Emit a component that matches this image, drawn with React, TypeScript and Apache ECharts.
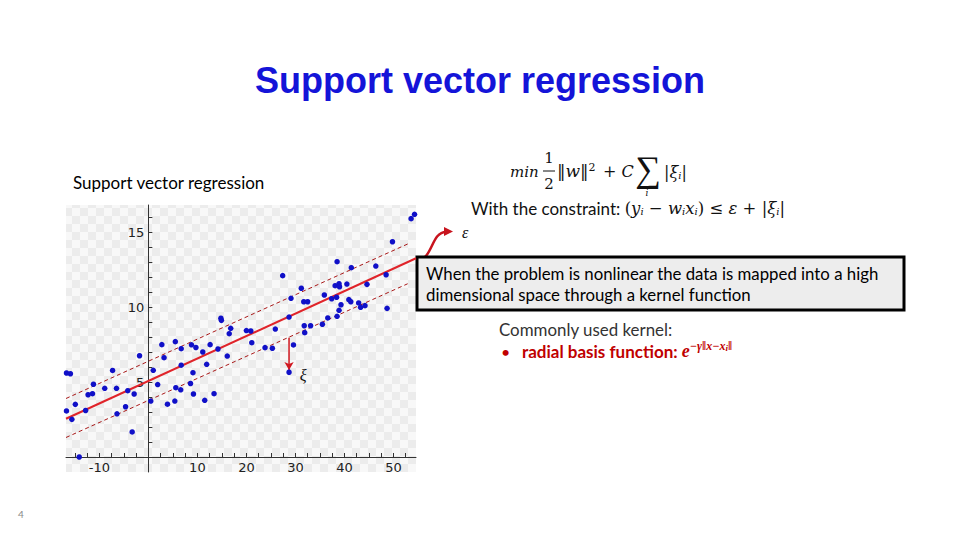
import React, { useEffect, useRef } from "react";
import * as echarts from "echarts";

// Scatter points: [x, y]
const points: number[][] = [
  [-16.7, 5.6], [-15.9, 5.55], [-1.8, 6.75], [-7.3, 5.77], [1.0, 5.78],
  [-11.2, 4.85], [-8.9, 4.58], [-6.5, 4.58], [-12.3, 4.15], [-11.4, 4.22],
  [-4.2, 4.42], [-2.9, 4.2], [-14.9, 3.51], [-16.7, 3.07], [-12.8, 3.1],
  [-15.6, 2.51], [-6.4, 2.88], [-4.65, 3.35], [0.5, 3.73], [-3.3, 1.67],
  [-14.1, 0.0], [1.9, 4.83], [14.8, 9.25], [14.9, 9.11], [16.8, 8.58],
  [16.5, 8.22], [2.75, 7.49], [5.5, 7.69], [6.7, 7.22], [8.8, 7.48],
  [9.7, 7.3], [11.1, 7.0], [12.6, 7.49], [14.2, 7.2], [16.1, 6.73],
  [3.2, 6.62], [6.7, 6.12], [11.9, 6.18], [9.1, 5.62], [5.6, 4.62],
  [6.6, 4.48], [8.6, 4.9], [9.2, 4.2], [13.4, 4.22], [5.4, 3.73],
  [3.9, 3.52], [11.5, 3.78], [27.4, 12.09], [31.2, 11.25], [29.1, 10.58],
  [31.7, 10.35], [32.5, 10.35], [35.9, 10.8], [28.7, 9.33], [20.0, 8.43],
  [20.9, 8.4], [25.9, 8.53], [31.8, 8.75], [33.1, 8.75], [35.5, 8.85],
  [36.6, 9.27], [31.9, 8.29], [21.1, 7.62], [23.8, 7.29], [25.3, 7.25],
  [29.6, 7.47], [28.7, 5.65], [54.3, 16.18], [53.6, 15.89], [49.8, 14.35],
  [38.5, 13.02], [41.4, 12.62], [46.4, 12.73], [48.5, 12.15], [38.1, 11.42],
  [38.9, 11.55], [39.0, 11.35], [40.5, 11.53], [44.6, 11.51], [38.4, 10.65],
  [37.4, 10.55], [40.9, 10.49], [41.3, 10.35], [42.9, 10.27], [43.3, 9.98],
  [44.2, 10.09], [39.3, 10.15], [38.9, 9.78], [48.7, 9.91], [38.5, 9.38],
];

// Regression line and epsilon tube endpoints
const fitX = [-16.8, 54.6];
const fitY = [2.55, 13.25];
const upperX = [-16.8, 52.9];
const upperY = [3.9, 14.2];
const lowerX = [-16.8, 52.9];
const lowerY = [1.3, 11.55];
// slack (xi) arrow
const slackX = [28.7, 28.7];
const slackY = [7.95, 5.8];

const xLabels = [-10, 10, 20, 30, 40, 50];
const xTicks = [-15, -12.5, -10, -7.5, -5, -2.5, 0, 2.5, 5, 7.5, 10, 12.5, 15, 17.5, 20, 22.5, 25, 27.5, 30, 32.5, 35, 37.5, 40, 42.5, 45, 47.5, 50, 52.5];
const yLabels = [5, 10, 15];
const yTicks = [1, 2, 3, 4, 5, 6, 7, 8, 9, 10, 11, 12, 13, 14, 15, 16];

const SERIF = '"Liberation Serif", "DejaVu Serif", serif';
const MATH = '"DejaVu Serif", serif';
const SANS = 'Lato, "Open Sans", sans-serif';
const RED = "#c00000";

export default function App() {
  const ref = useRef<HTMLDivElement>(null);
  useEffect(() => {
    document.body.style.margin = "0";
    const chart = echarts.init(ref.current!, null, { renderer: "svg" });

    const cv = document.createElement("canvas");
    cv.width = 16;
    cv.height = 16;
    const ctx = cv.getContext("2d")!;
    ctx.fillStyle = "#f8f8f8";
    ctx.fillRect(0, 0, 16, 16);
    ctx.fillStyle = "#ececec";
    ctx.fillRect(0, 0, 8, 8);
    ctx.fillRect(8, 8, 8, 8);

    const pair = (xs: number[], ys: number[]) => xs.map((x, i) => [x, ys[i]]);

    const mathRich = (size: number) => ({
      n: { font: `${size}px ${MATH}`, fill: "#111" },
      i: { font: `italic ${size}px ${MATH}`, fill: "#111" },
      b: { font: `italic ${Math.round(size * 0.62)}px ${MATH}`, fill: "#111", padding: [6, 0, 0, 0] },
      s: { font: `${Math.round(size * 0.62)}px ${MATH}`, fill: "#111", padding: [0, 0, 8, 0] },
      a: { font: `17px ${SANS}`, fill: "#111" },
    });

    const option: any = {
      animation: false,
      backgroundColor: "#ffffff",
      grid: { left: 66, right: 544, top: 205, bottom: 68 },
      xAxis: {
        type: "value",
        min: -16.8,
        max: 54.6,
        position: "bottom",
        offset: -15,
        axisLine: { show: true, onZero: false, lineStyle: { color: "#333", width: 1 } },
        axisTick: { show: true, inside: true, length: 4, customValues: xTicks, lineStyle: { color: "#333" } },
        axisLabel: { customValues: xLabels, fontSize: 13, color: "#222", fontFamily: "DejaVu Sans", margin: 4 },
        splitLine: { show: false },
      },
      yAxis: {
        type: "value",
        min: -1,
        max: 16.8,
        position: "left",
        offset: -82.35,
        axisLine: { show: true, onZero: false, lineStyle: { color: "#333", width: 1 } },
        axisTick: { show: true, inside: true, length: 4, customValues: yTicks, lineStyle: { color: "#333" } },
        axisLabel: { customValues: yLabels, fontSize: 13, color: "#222", fontFamily: "DejaVu Sans", margin: 4 },
        splitLine: { show: false },
      },
      graphic: [
        {
          type: "rect", z: -10, silent: true,
          shape: { x: 66, y: 205, width: 350, height: 267 },
          style: { fill: { image: cv, repeat: "repeat", imageWidth: 16, imageHeight: 16 } as any },
        },
        {
          type: "text", x: 480, y: 80,
          style: { text: "Support vector regression", font: 'bold 36px "Liberation Sans", Arial, sans-serif', fill: "#1414d8", align: "center", verticalAlign: "middle" },
        },
        {
          type: "text", x: 73, y: 182,
          style: { text: "Support vector regression", font: "17px " + SANS, fill: "#000", verticalAlign: "middle" },
        },
        // formula
        { type: "text", x: 510, y: 172, style: { text: "min", font: "italic 15px " + MATH, fill: "#111", verticalAlign: "middle" } },
        { type: "text", x: 549, y: 158, style: { text: "1", font: "15px " + MATH, fill: "#111", align: "center", verticalAlign: "middle" } },
        { type: "line", shape: { x1: 543, y1: 171, x2: 555, y2: 171 }, style: { stroke: "#111", lineWidth: 1 } },
        { type: "text", x: 549, y: 184, style: { text: "2", font: "15px " + MATH, fill: "#111", align: "center", verticalAlign: "middle" } },
        {
          type: "text", x: 557, y: 171,
          style: { text: "{n|‖}{i|w}{n|‖}{s|2}", verticalAlign: "middle", rich: mathRich(17) },
        },
        {
          type: "text", x: 603, y: 171,
          style: { text: "{n|+ }{i|C}", verticalAlign: "middle", rich: mathRich(16) },
        },
        { type: "text", x: 648, y: 169, style: { text: "∑", font: "36px " + SERIF, fill: "#111", align: "center", verticalAlign: "middle" } },
        { type: "text", x: 647, y: 193, style: { text: "i", font: "italic 9px " + MATH, fill: "#111", align: "center", verticalAlign: "middle" } },
        {
          type: "text", x: 664, y: 172,
          style: { text: "{n||}{i|ξ}{b|i}{n||}", verticalAlign: "middle", rich: mathRich(16) },
        },
        {
          type: "text", x: 471, y: 208,
          style: {
            text: "{a|With the constraint: }{n|(}{i|y}{b|i}{n| − }{i|w}{b|i}{i|x}{b|i}{n|) ≤ }{i|ε}{n| + |}{i|ξ}{b|i}{n||}",
            verticalAlign: "middle",
            rich: mathRich(16.5),
          },
        },
        // epsilon arrow
        {
          type: "bezierCurve",
          shape: { x1: 418, y1: 260, cpx1: 433, cpy1: 259, cpx2: 431, cpy2: 232, x2: 446, y2: 232 },
          style: { stroke: "#c8141e", lineWidth: 2.5, fill: "none" },
        },
        { type: "polygon", shape: { points: [[444, 227], [453, 231.5], [444, 236]] }, style: { fill: "#c8141e" } },
        { type: "text", x: 462, y: 232, style: { text: "ε", font: "italic 16px " + SERIF, fill: "#111", verticalAlign: "middle" } },
        // box
        {
          type: "rect",
          shape: { x: 417, y: 257, width: 487, height: 53 },
          style: { fill: "#ededed", stroke: "#000", lineWidth: 3 },
        },
        { type: "text", x: 426, y: 273, style: { text: "When the problem is nonlinear the data is mapped into a high", font: "16.8px " + SANS, fill: "#000", verticalAlign: "middle" } },
        { type: "text", x: 426, y: 294, style: { text: "dimensional space through a kernel function", font: "16.8px " + SANS, fill: "#000", verticalAlign: "middle" } },
        // kernel
        { type: "text", x: 499, y: 329, style: { text: "Commonly used kernel:", font: "16.9px " + SANS, fill: "#333", verticalAlign: "middle" } },
        { type: "text", x: 501, y: 351, style: { text: "•", font: "16px " + SANS, fill: RED, verticalAlign: "middle" } },
        {
          type: "text", x: 522, y: 351,
          style: {
            text: "{a|radial basis function: }{e|e}{s|−γ‖x−x}{t|i}{s|‖}",
            verticalAlign: "middle",
            rich: {
              a: { font: "bold 17px " + SANS, fill: RED },
              e: { font: "bold italic 18px " + SERIF, fill: RED },
              s: { font: "bold italic 12px " + SERIF, fill: RED, padding: [0, 0, 10, 0] },
              t: { font: "bold italic 9px " + SERIF, fill: RED, padding: [0, 0, 6, 0] },
            },
          },
        },
        { type: "text", x: 18, y: 514, style: { text: "4", font: "10px " + SANS, fill: "#888", verticalAlign: "middle" } },
      ],
      series: [
        {
          type: "line", data: pair(upperX, upperY), symbol: "none", z: 3,
          lineStyle: { color: "#a81818", width: 1, type: [4, 3] },
        },
        {
          type: "line", data: pair(lowerX, lowerY), symbol: "none", z: 3,
          lineStyle: { color: "#a81818", width: 1, type: [4, 3] },
        },
        {
          type: "line", data: pair(fitX, fitY), symbol: "none", z: 4,
          lineStyle: { color: "#e0242a", width: 2 },
        },
        {
          type: "line", z: 4,
          data: [
            { value: [slackX[0], slackY[0]], symbol: "none" },
            {
              value: [slackX[1], slackY[1]], symbol: "arrow", symbolSize: [7, 8], symbolRotate: 180,
              label: { show: true, formatter: "ξ", position: "right", offset: [1, 9], fontFamily: SERIF, fontStyle: "italic", fontSize: 16, color: "#111" },
            },
          ],
          showSymbol: true,
          itemStyle: { color: "#d01820" },
          lineStyle: { color: "#d01820", width: 1.5 },
        },
        {
          type: "scatter", z: 5, data: points, symbolSize: 5.5,
          itemStyle: { color: "#1010c8", opacity: 1 },
        },
      ],
    };
    chart.setOption(option);
    return () => chart.dispose();
  }, []);
  return <div ref={ref} style={{ position: "fixed", left: 0, top: 0, width: 960, height: 540 }} />;
}
